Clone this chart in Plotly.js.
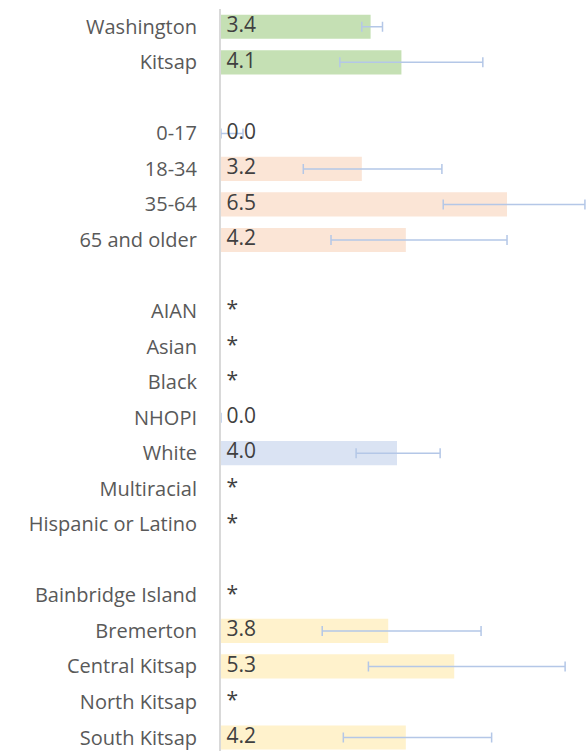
<!DOCTYPE html>
<html>
<head>
<meta charset="utf-8">
<script src="https://cdn.plot.ly/plotly-3.0.1.min.js"></script>
<style>html,body{margin:0;padding:0;background:#fff;}#chart{width:588px;height:751px;}</style>
</head>
<body>
<div id="chart"></div>
<script>
// Categories (blank entries are spacer rows between groups)
var categories = ["Washington","Kitsap"," ","0-17","18-34","35-64","65 and older","  ",
  "AIAN","Asian","Black","NHOPI","White","Multiracial","Hispanic or Latino","   ",
  "Bainbridge Island","Bremerton","Central Kitsap","North Kitsap","South Kitsap"];
var rates = [3.4,4.1,null,0.0,3.2,6.5,4.2,null,
  null,null,null,0.0,4.0,null,null,null,
  null,3.8,5.3,null,4.2];
var lowerCI = [3.2,2.7,null,0.0,1.87,5.05,2.5,null,
  null,null,null,null,3.07,null,null,null,
  null,2.3,3.35,null,2.78];
var upperCI = [3.67,5.95,null,0.5,5.02,8.27,6.5,null,
  null,null,null,null,4.98,null,null,null,
  null,5.91,7.82,null,6.15];
var valueLabels = ["3.4","4.1","","0.0","3.2","6.5","4.2","",
  "*","*","*","0.0","4.0","*","*","",
  "*","3.8","5.3","*","4.2"];
var groups = ["state","county","","age","age","age","age","",
  "race","race","race","race","race","race","race","",
  "region","region","region","region","region"];

var groupColors = {state:"#c5e0b4", county:"#c5e0b4", age:"#fbe5d6", race:"#dae3f3", region:"#fff2cc", "":"#ffffff"};

var errPlus = rates.map(function(v,i){ return (v===null||upperCI[i]===null)?null:+(upperCI[i]-v).toFixed(3); });
var errMinus = rates.map(function(v,i){ return (v===null||lowerCI[i]===null)?null:+(v-lowerCI[i]).toFixed(3); });

var bars = {
  type:"bar", orientation:"h",
  y:categories, x:rates,
  marker:{color:groups.map(function(g){return groupColors[g];})},
  error_x:{type:"data", symmetric:false, array:errPlus, arrayminus:errMinus,
    color:"#b4c7e7", thickness:1.5, width:5},
  hoverinfo:"x+y", showlegend:false
};
var labels = {
  type:"scatter", mode:"text",
  y:categories, x:categories.map(function(){return 0;}),
  text:valueLabels.map(function(t){return t ? "\u00a0" + t : t;}), textposition:"middle right",
  textfont:{family:"Open Sans, sans-serif", size:21, color:"#404040"},
  cliponaxis:false, hoverinfo:"skip", showlegend:false
};

var layout = {
  width:588, height:751,
  margin:{l:221, r:0, t:9, b:0},
  paper_bgcolor:"#ffffff", plot_bgcolor:"#ffffff",
  bargap:0.32,
  xaxis:{range:[0,8.34], showgrid:false, zeroline:false, showticklabels:false, showline:false, fixedrange:true},
  yaxis:{type:"category", range:[20.38,-0.5], showgrid:false, zeroline:false,
    showline:true, linecolor:"#d9d9d9", linewidth:2,
    ticks:"outside", ticklen:18, tickcolor:"rgba(0,0,0,0)",
    tickfont:{family:"Open Sans, sans-serif", size:20, color:"#595959"}, fixedrange:true},
  font:{family:"Open Sans, sans-serif"}
};
Plotly.newPlot("chart",[bars,labels],layout,{displayModeBar:false, staticPlot:true});
</script>
</body>
</html>
